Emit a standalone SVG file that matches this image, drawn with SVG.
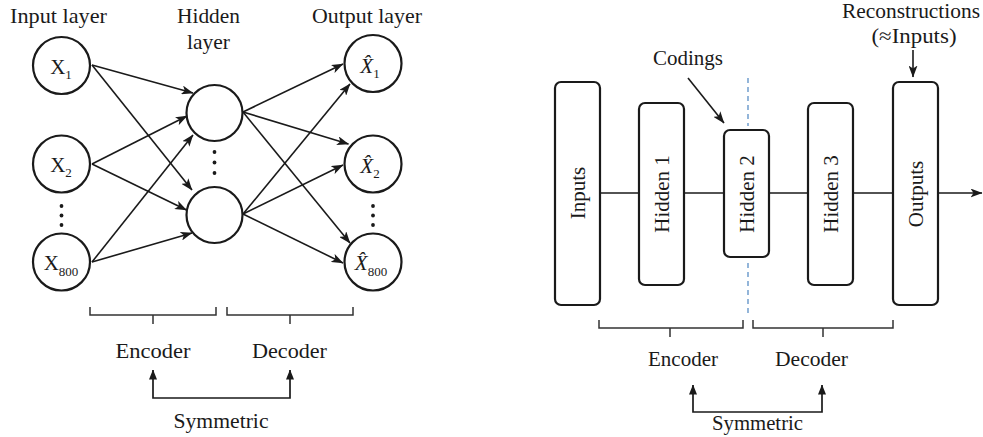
<svg xmlns="http://www.w3.org/2000/svg" width="983" height="437" viewBox="0 0 983 437">
  <style>
    text { font-family: "Liberation Serif", "Times New Roman", serif; fill: #1a1a1a; }
    .lbl { font-size: 21px; }
    .sym { font-size: 21px; }
    .node { fill: #fff; stroke: #1a1a1a; stroke-width: 2.2; }
    .edge { fill: none; stroke: #1a1a1a; stroke-width: 1.6; marker-end: url(#barb); }
    .link { fill: none; stroke: #1a1a1a; stroke-width: 1.6; }
    .brace { fill: none; stroke: #333; stroke-width: 1.5; }
    .up { fill: none; stroke: #1a1a1a; stroke-width: 1.7; marker-end: url(#tri); }
    .box { fill: #fff; stroke: #1a1a1a; stroke-width: 2.2; }
    .split { fill: none; stroke: #5b8fc6; stroke-width: 1.3; stroke-dasharray: 5 4; }
    .dot { fill: #1a1a1a; }
  </style>
  <defs>
    <marker id="barb" viewBox="0 0 12 9" refX="11.5" refY="4.5" markerWidth="12" markerHeight="9" markerUnits="userSpaceOnUse" orient="auto">
      <path d="M0,0 L12,4.5 L0,9 L3,4.5 Z" fill="#1a1a1a"/>
    </marker>
    <marker id="tri" viewBox="0 0 10 8" refX="9.5" refY="4" markerWidth="10" markerHeight="8" markerUnits="userSpaceOnUse" orient="auto">
      <path d="M0,0 L10,4 L0,8 Z" fill="#1a1a1a"/>
    </marker>
  </defs>

  <!-- ===== Left: fully connected autoencoder ===== -->
  <g id="layer-titles">
    <text class="lbl" x="58.5" y="23" text-anchor="middle" textLength="97" lengthAdjust="spacingAndGlyphs">Input layer</text>
    <text class="lbl" x="208.5" y="23" text-anchor="middle" textLength="63" lengthAdjust="spacingAndGlyphs">Hidden</text>
    <text class="lbl" x="208.5" y="49" text-anchor="middle" textLength="43" lengthAdjust="spacingAndGlyphs">layer</text>
    <text class="lbl" x="367" y="23" text-anchor="middle" textLength="110" lengthAdjust="spacingAndGlyphs">Output layer</text>
  </g>

  <g id="connectors-left">
    <line class="edge" x1="92" y1="65" x2="193" y2="93"/>
    <line class="edge" x1="92" y1="65" x2="192" y2="190"/>
    <line class="edge" x1="92" y1="164" x2="187" y2="116"/>
    <line class="edge" x1="92" y1="164" x2="186.5" y2="210"/>
    <line class="edge" x1="92" y1="262" x2="193" y2="135"/>
    <line class="edge" x1="92" y1="262" x2="192" y2="233"/>
    <line class="edge" x1="243" y1="112" x2="343" y2="64"/>
    <line class="edge" x1="243" y1="112" x2="348.5" y2="144"/>
    <line class="edge" x1="243" y1="112" x2="350" y2="243"/>
    <line class="edge" x1="243" y1="214" x2="350" y2="84"/>
    <line class="edge" x1="243" y1="214" x2="343" y2="165"/>
    <line class="edge" x1="243" y1="214" x2="343" y2="263"/>
  </g>

  <g id="x1">
    <circle class="node" cx="61.5" cy="65.5" r="28.5"/>
    <text class="sym" x="61" y="73.5" text-anchor="middle">X<tspan font-size="13" dy="5">1</tspan></text>
  </g>
  <g id="x2">
    <circle class="node" cx="61.5" cy="164" r="28.5"/>
    <text class="sym" x="61" y="172" text-anchor="middle">X<tspan font-size="13" dy="5">2</tspan></text>
  </g>
  <g id="x-dots">
    <circle class="dot" cx="61.5" cy="206" r="1.9"/>
    <circle class="dot" cx="61.5" cy="215.5" r="1.9"/>
    <circle class="dot" cx="61.5" cy="225" r="1.9"/>
  </g>
  <g id="x800">
    <circle class="node" cx="61.5" cy="262" r="28.5"/>
    <text class="sym" x="61" y="270" text-anchor="middle">X<tspan font-size="13" dy="6">800</tspan></text>
  </g>

  <g id="h-top">
    <circle class="node" cx="214.5" cy="113" r="28"/>
  </g>
  <g id="h-dots">
    <circle class="dot" cx="214.5" cy="152" r="1.9"/>
    <circle class="dot" cx="214.5" cy="162.5" r="1.9"/>
    <circle class="dot" cx="214.5" cy="173" r="1.9"/>
  </g>
  <g id="h-bottom">
    <circle class="node" cx="214.5" cy="215" r="28"/>
  </g>

  <g id="y1">
    <circle class="node" cx="373" cy="63.5" r="28.5"/>
    <text class="sym" x="370" y="73" text-anchor="middle"><tspan font-style="italic">X̂</tspan><tspan font-size="13" dy="5">1</tspan></text>
  </g>
  <g id="y2">
    <circle class="node" cx="373" cy="164" r="28.5"/>
    <text class="sym" x="370" y="173" text-anchor="middle"><tspan font-style="italic">X̂</tspan><tspan font-size="13" dy="5">2</tspan></text>
  </g>
  <g id="y-dots">
    <circle class="dot" cx="373" cy="206" r="1.9"/>
    <circle class="dot" cx="373" cy="215.5" r="1.9"/>
    <circle class="dot" cx="373" cy="225" r="1.9"/>
  </g>
  <g id="y800">
    <circle class="node" cx="373" cy="262" r="28.5"/>
    <text class="sym" x="371" y="270" text-anchor="middle"><tspan font-style="italic">X̂</tspan><tspan font-size="13" dy="6">800</tspan></text>
  </g>

  <g id="left-braces">
    <path class="brace" d="M90,307 V315 H216 V307 M153,315 V324"/>
    <path class="brace" d="M227,307 V315 H353 V307 M290,315 V324"/>
    <text class="lbl" x="153" y="358" text-anchor="middle" textLength="75" lengthAdjust="spacingAndGlyphs">Encoder</text>
    <text class="lbl" x="289.5" y="358" text-anchor="middle" textLength="75" lengthAdjust="spacingAndGlyphs">Decoder</text>
  </g>
  <g id="left-symmetric">
    <path class="up" d="M221,398 H153 V370"/>
    <path class="up" d="M221,398 H290 V370"/>
    <text class="lbl" x="221" y="428" text-anchor="middle" textLength="95" lengthAdjust="spacingAndGlyphs">Symmetric</text>
  </g>

  <!-- ===== Right: stacked autoencoder ===== -->
  <g id="connectors-right">
    <line class="link" x1="600" y1="193" x2="639" y2="193"/>
    <line class="link" x1="684" y1="193" x2="724" y2="193"/>
    <line class="link" x1="769" y1="193" x2="808" y2="193"/>
    <line class="link" x1="853" y1="193" x2="893" y2="193"/>
    <line class="edge" x1="938" y1="193" x2="982" y2="193"/>
    <line class="edge" x1="688" y1="78" x2="724" y2="123"/>
    <line class="edge" x1="913" y1="50" x2="913" y2="77"/>
  </g>

  <g id="split-line">
    <line class="split" x1="748" y1="78" x2="748" y2="126"/>
    <line class="split" x1="748" y1="263" x2="748" y2="316"/>
  </g>

  <g id="inputs">
    <rect class="box" x="555" y="82" width="45" height="223" rx="6"/>
    <text class="lbl" transform="translate(577.5,193) rotate(-90)" text-anchor="middle" dominant-baseline="central">Inputs</text>
  </g>
  <g id="hidden1">
    <rect class="box" x="639" y="103" width="45" height="182" rx="6"/>
    <text class="lbl" transform="translate(662,194) rotate(-90)" text-anchor="middle" dominant-baseline="central">Hidden 1</text>
  </g>
  <g id="hidden2">
    <rect class="box" x="724" y="130" width="45" height="127" rx="6"/>
    <text class="lbl" transform="translate(747,194) rotate(-90)" text-anchor="middle" dominant-baseline="central">Hidden 2</text>
  </g>
  <g id="hidden3">
    <rect class="box" x="808" y="103" width="45" height="182" rx="6"/>
    <text class="lbl" transform="translate(831,194) rotate(-90)" text-anchor="middle" dominant-baseline="central">Hidden 3</text>
  </g>
  <g id="outputs">
    <rect class="box" x="893" y="82" width="45" height="223" rx="6"/>
    <text class="lbl" transform="translate(916,194) rotate(-90)" text-anchor="middle" dominant-baseline="central">Outputs</text>
  </g>

  <g id="callouts">
    <text class="lbl" x="688" y="65" text-anchor="middle" textLength="70" lengthAdjust="spacingAndGlyphs">Codings</text>
    <text class="lbl" x="911" y="18" text-anchor="middle" textLength="138" lengthAdjust="spacingAndGlyphs">Reconstructions</text>
    <text class="lbl" x="914" y="43" text-anchor="middle" textLength="85" lengthAdjust="spacingAndGlyphs">(≈Inputs)</text>
  </g>

  <g id="right-braces">
    <path class="brace" d="M599,320 V328 H743 V320 M670,328 V337"/>
    <path class="brace" d="M753,320 V328 H893 V320 M823,328 V337"/>
    <text class="lbl" x="683" y="366" text-anchor="middle" textLength="70" lengthAdjust="spacingAndGlyphs">Encoder</text>
    <text class="lbl" x="811.5" y="366" text-anchor="middle" textLength="73" lengthAdjust="spacingAndGlyphs">Decoder</text>
  </g>
  <g id="right-symmetric">
    <path class="up" d="M757,412 H693 V385"/>
    <path class="up" d="M757,412 H822 V385"/>
    <text class="lbl" x="757.5" y="430" text-anchor="middle" textLength="91" lengthAdjust="spacingAndGlyphs">Symmetric</text>
  </g>
</svg>
